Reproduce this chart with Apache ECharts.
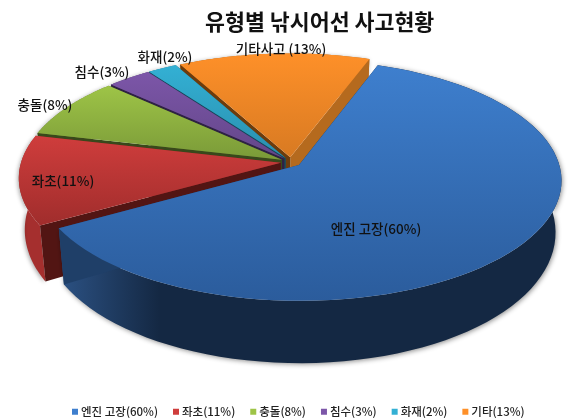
<!DOCTYPE html>
<html><head><meta charset="utf-8">
<style>html,body{margin:0;padding:0;background:#fff}#c{width:580px;height:419px}</style>
<script src="https://cdn.jsdelivr.net/npm/echarts@6/dist/echarts.min.js"></script>
</head><body><div id="c"></div>
<script>
const categories = ['엔진 고장', '좌초', '충돌', '침수', '화재', '기타'];
const values = [59.3, 11.7, 8, 3, 2, 13];
const legendLabels = ['엔진 고장(60%)', '좌초(11%)', '충돌(8%)', '침수(3%)', '화재(2%)', '기타(13%)'];
const sliceLabels = ['엔진 고장(60%)', '좌초(11%)', '충돌(8%)', '침수(3%)', '화재(2%)', '기타사고 (13%)'];

// styling, one per slice
const topLight = ['#3e7fce', '#cf3d3c', '#9ec447', '#7c56a8', '#33b0d4', '#fe9029'];
const topDark  = ['#2b5c9c', '#a02d2c', '#7a9a38', '#634689', '#2a8fae', '#d87a22'];
const wallLeft = ['#2c5284', '#a52f2e', '#6f8c33', '#5b3f7c', '#25809b', '#c26f1e'];
const wallMain = ['#142843', '#8a2725', '#5d752b', '#4c3568', '#1f6c83', '#a85f18'];
const faceStart= ['#14263f', '#521513', '#39481b', '#2e2243', '#14475a', '#6d3c0c'];
const faceEnd  = ['#1f3f68', '#7b2322', '#4f6425', '#3e2c58', '#1b5c70', '#b56a1e'];
const labelSpots = [[376, 229], [63, 181], [45, 105], [102, 72], [165, 57], [281, 49]];

// projection of the tilted pie
const P = {cx: 291, cy: 162, b: 259.5, a: 118, k: 0.125, e: 0.04, s: 0.978, startDeg: 20};
const total = values.reduce((s, v) => s + v, 0);
const rad = d => d * Math.PI / 180;
function proj(u, v) {
  const w = 1 - P.k * v;
  return [P.cx + P.b * u / w, P.cy + P.a * v / w];
}
function down(pt, v) {
  return [P.cx + (pt[0] - P.cx) * P.s, pt[1] + 50 + 12 * v];
}
function slice(i) {
  let a0 = P.startDeg;
  for (let j = 0; j < i; j++) a0 += values[j] / total * 360;
  const a1 = a0 + values[i] / total * 360;
  const mid = rad((a0 + a1) / 2);
  const ou = P.e * Math.sin(mid), ov = -P.e * Math.cos(mid);
  const apex = proj(ou, ov);
  const apexB = down(apex, ov);
  const rimT = [], rimB = [];
  for (let t = 0; t <= 80; t++) {
    const th = rad(a0 + (a1 - a0) * t / 80);
    const u = ou + Math.sin(th), v = ov - Math.cos(th);
    const p = proj(u, v);
    rimT.push(p); rimB.push(down(p, v));
  }
  return {apex, apexB, rimT, rimB};
}
// back-to-front order of the walls: orange, teal, purple, green, red, blue
const wallOrder = [5, 4, 3, 2, 1, 0];

function renderSlice(i) {
  return function () {
    const s = slice(i);
    const z = wallOrder.indexOf(i) * 4;
    const last = s.rimT.length - 1;
    const wall = s.rimT.concat(s.rimB.slice().reverse());
    const grad = (c0, c1, c2) => ({type: 'linear', x: 0, y: 0, x2: 1, y2: 0, colorStops: [
      {offset: 0, color: c0}, {offset: 0.35, color: c1}, {offset: 1, color: c2}]});
    return {
      type: 'group',
      children: [
        {type: 'polygon', z2: z, silent: true,
          shape: {points: wall},
          style: i === 0
            ? {fill: {type: 'linear', x: 1, y: 0, x2: 0, y2: 0, colorStops: [
                {offset: 0, color: wallMain[0]}, {offset: 0.8, color: wallMain[0]}, {offset: 1, color: wallLeft[0]}]},
               shadowBlur: 5, shadowColor: 'rgba(0,0,0,0.45)', shadowOffsetX: 1, shadowOffsetY: 1}
            : {fill: grad(wallMain[i], wallLeft[i], wallLeft[i]),
               shadowBlur: 4, shadowColor: 'rgba(0,0,0,0.35)', shadowOffsetX: -1, shadowOffsetY: 1}},
        {type: 'polygon', z2: z + 1, silent: true,
          shape: {points: [s.apex, s.rimT[last], s.rimB[last], s.apexB]},
          style: {fill: faceEnd[i]}},
        {type: 'polygon', z2: z + 2, silent: true,
          shape: {points: [s.apex, s.rimT[0], s.rimB[0], s.apexB]},
          style: {fill: faceStart[i]}},
        {type: 'polygon', z2: 100, silent: true,
          shape: {points: [s.apex].concat(s.rimT)},
          style: {fill: {type: 'linear', x: 0, y: 0, x2: 0, y2: 1, colorStops: [
            {offset: 0, color: topLight[i]}, {offset: 1, color: topDark[i]}]}}},
        {type: 'text', z2: 200, silent: true,
          x: labelSpots[i][0], y: labelSpots[i][1],
          style: {text: sliceLabels[i], fill: '#111', align: 'center', verticalAlign: 'middle',
            font: '500 13.5px "Noto Sans CJK KR", "Noto Sans", sans-serif'}}
      ]
    };
  };
}

const chart = echarts.init(document.getElementById('c'), null, {renderer: 'canvas'});
chart.setOption({
  animation: false,
  backgroundColor: '#fff',
  title: {
    text: '유형별 낚시어선 사고현황', left: 200, top: 6,
    textStyle: {fontFamily: '"Noto Sans CJK KR", sans-serif', fontSize: 21.7, fontWeight: 'bold', color: '#111'}
  },
  legend: {
    top: 401, left: 67,
    data: legendLabels,
    icon: 'rect', itemWidth: 6, itemHeight: 6, itemGap: 15,
    textStyle: {fontFamily: '"Noto Sans CJK KR", sans-serif', fontSize: 11.5, fontWeight: 500, color: '#222', padding: [0, 0, 0, -2]}
  },
  series: categories.map((c, i) => ({
    type: 'custom',
    name: legendLabels[i],
    coordinateSystem: 'none',
    itemStyle: {color: topLight[i]},
    data: [[values[i]]],
    renderItem: renderSlice(i)
  }))
});
</script></body></html>
